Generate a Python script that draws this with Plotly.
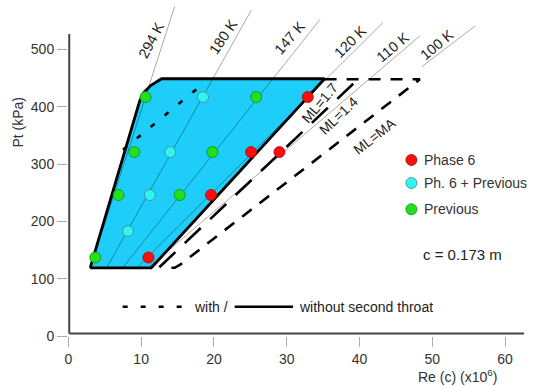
import plotly.graph_objects as go

# ---------------- data ----------------
# measured points (Re(c) x1e6, Pt kPa)
phase6_re = [11.0, 19.6, 25.1, 29.0, 32.9]
phase6_pt = [137, 246, 321, 321, 417]
both_re = [8.2, 11.2, 14.0, 18.5]
both_pt = [183, 246, 321, 417]
prev_re = [3.7, 6.9, 15.3, 9.07, 19.8, 10.6, 25.8]
prev_pt = [137, 246, 246, 321, 321, 417, 417]

# constant temperature lines: Re = k * Pt
temp_labels = ["294 K", "180 K", "147 K", "120 K", "110 K", "100 K"]
temp_k = [0.0254, 0.0442, 0.0626, 0.0790, 0.0922, 0.1033]
temp_p_low = [119, 120, 120, 120, 120, 470]
temp_p_high = [575, 569, 552, 547, 524, 541]
temp_lab_re = [11.4, 21.25, 30.4, 38.66, 44.6, 50.6]
temp_lab_pt = [516.6, 522.3, 519.5, 513.6, 504.9, 507.9]
temp_lab_ang = [-62, -56, -49, -45, -40, -40]

# envelope without second throat (solid, filled)
solid_re = [3.0, 9.8, 10.3, 11.3, 12.8, 35.2, 11.4, 3.0]
solid_pt = [119, 410, 424, 437, 449, 449, 119, 119]
# envelope with second throat (dashed right part, dotted left part)
with_re = [35.2, 48.3, 15.3, 14.6, 13.0]
with_pt = [448, 448, 124, 119, 119]
ml14_re = [12.5, 39.2]
ml14_pt = [120, 441]
with_left_re = [7.5, 18.3]
with_left_pt = [325, 438]

ml_labels = ["ML=1.7", "ML=1.4", "ML=MA"]
ml_re = [34.5, 37.05, 42.1]
ml_pt = [407, 384, 349]
ml_ang = [-50, -44, -38]

x_ticks = [0, 10, 20, 30, 40, 50, 60]
y_ticks = [0, 100, 200, 300, 400, 500]

FONT = "Liberation Sans, Arial, sans-serif"
BLUE = "#1ECDFA"

fig = go.Figure()

# filled envelope
fig.add_trace(go.Scatter(x=solid_re, y=solid_pt, mode="lines", fill="toself",
                         fillcolor=BLUE, line=dict(width=0), hoverinfo="skip"))

# temperature lines
for k, p0, p1 in zip(temp_k, temp_p_low, temp_p_high):
    fig.add_trace(go.Scatter(x=[k * p0, k * p1], y=[p0, p1], mode="lines",
                             line=dict(color="rgba(0,0,0,0.42)", width=0.8), hoverinfo="skip"))

# solid border
fig.add_trace(go.Scatter(x=solid_re, y=solid_pt, mode="lines",
                         line=dict(color="black", width=2.8), hoverinfo="skip"))
# dashed envelopes
fig.add_trace(go.Scatter(x=with_re, y=with_pt, mode="lines",
                         line=dict(color="black", width=2.6, dash="12px,10px"), hoverinfo="skip"))
fig.add_trace(go.Scatter(x=ml14_re, y=ml14_pt, mode="lines",
                         line=dict(color="black", width=2.6, dash="22px,13px"), hoverinfo="skip"))
fig.add_trace(go.Scatter(x=with_left_re, y=with_left_pt, mode="lines",
                         line=dict(color="black", width=2.6, dash="5px,13px"), hoverinfo="skip"))

# markers
def pts(xs, ys, color, edge):
    fig.add_trace(go.Scatter(x=xs, y=ys, mode="markers", cliponaxis=False,
                             marker=dict(size=11, color=color, line=dict(color=edge, width=0.8))))

pts(phase6_re, phase6_pt, "#FF0D0D", "#B00000")
pts(both_re, both_pt, "#33F2F2", "#3A8A8A")
pts(prev_re, prev_pt, "#22E01E", "#138A10")

# manual legend (right)
leg_re = 47.13
leg_pt = [307.2, 267.0, 221.1]
leg_names = ["Phase 6", "Ph. 6 + Previous", "Previous"]
leg_colors = [("#FF0D0D", "#B00000"), ("#33F2F2", "#3A8A8A"), ("#22E01E", "#138A10")]
for yy, (c, e) in zip(leg_pt, leg_colors):
    fig.add_trace(go.Scatter(x=[leg_re], y=[yy], mode="markers",
                             marker=dict(size=11, color=c, line=dict(color=e, width=0.8))))

annotations = []
for name, yy in zip(leg_names, leg_pt):
    annotations.append(dict(x=48.6, y=yy, xref="x", yref="y", text=name, showarrow=False,
                            xanchor="left", yanchor="middle",
                            font=dict(family=FONT, size=14, color="#333")))

annotations.append(dict(x=54.2, y=141.4, xref="x", yref="y", text="c = 0.173 m", showarrow=False,
                        xanchor="center", yanchor="middle",
                        font=dict(family=FONT, size=15, color="#222")))

# bottom legend
fig.add_trace(go.Scatter(x=[7.46, 15.7], y=[51, 51], mode="lines",
                         line=dict(color="black", width=2.6, dash="5px,13px")))
fig.add_trace(go.Scatter(x=[22.85, 30.86], y=[51, 51], mode="lines",
                         line=dict(color="black", width=2.6)))
annotations.append(dict(x=17.0, y=51, xref="x", yref="y", text="with /", showarrow=False,
                        xanchor="left", yanchor="middle",
                        font=dict(family=FONT, size=14, color="#222")))
annotations.append(dict(x=31.4, y=51, xref="x", yref="y", text="without second throat", showarrow=False,
                        xanchor="left", yanchor="middle",
                        font=dict(family=FONT, size=14, color="#222")))

for t, xx, yy, a in zip(temp_labels, temp_lab_re, temp_lab_pt, temp_lab_ang):
    annotations.append(dict(x=xx, y=yy, xref="x", yref="y", text=t, showarrow=False,
                            textangle=a, xanchor="center", yanchor="middle",
                            font=dict(family=FONT, size=14.5, color="#222")))
for t, xx, yy, a in zip(ml_labels, ml_re, ml_pt, ml_ang):
    annotations.append(dict(x=xx, y=yy, xref="x", yref="y", text=t, showarrow=False,
                            textangle=a, xanchor="center", yanchor="middle",
                            font=dict(family=FONT, size=14, color="#222")))

# axis titles
annotations.append(dict(x=-0.1105, y=373.5, xref="paper", yref="y", text="Pt (kPa)", showarrow=False,
                        textangle=-90, xanchor="center", yanchor="middle",
                        font=dict(family=FONT, size=14, color="#333")))
annotations.append(dict(x=53.4, y=-0.119, xref="x", yref="paper", text="Re (c) (x10<sup>6</sup>)",
                        showarrow=False, xanchor="center", yanchor="middle",
                        font=dict(family=FONT, size=14, color="#333")))

# axis lines drawn as shapes (y axis stops at ~527 kPa)
shapes = [
    dict(type="line", xref="x", yref="y", x0=0.12, x1=0.12, y0=4.5, y1=527,
         line=dict(color="#444", width=2)),
    dict(type="line", xref="x", yref="y", x0=0.12, x1=62.6, y0=4.5, y1=4.5,
         line=dict(color="#444", width=2)),
]

fig.update_layout(
    width=550, height=386,
    margin=dict(l=68.34, r=26, t=0, b=50, autoexpand=False),
    paper_bgcolor="white", plot_bgcolor="white",
    showlegend=False, hovermode=False,
    annotations=annotations, shapes=shapes,
    xaxis=dict(range=[-0.05, 62.6], tickvals=x_ticks, ticks="outside", ticklen=10,
               tickcolor="#aaa", tickwidth=1, showgrid=False, zeroline=False, showline=False,
               tickfont=dict(family=FONT, size=14, color="#333")),
    yaxis=dict(range=[0, 586.4], tickvals=y_ticks, ticks="outside", ticklen=10,
               tickcolor="#aaa", tickwidth=1, showgrid=False, zeroline=False, showline=False,
               tickfont=dict(family=FONT, size=14, color="#333")),
)

fig.write_html("out.html", config={"displayModeBar": False},
               post_script="document.body.style.margin='0px';document.body.style.overflow='hidden';")
